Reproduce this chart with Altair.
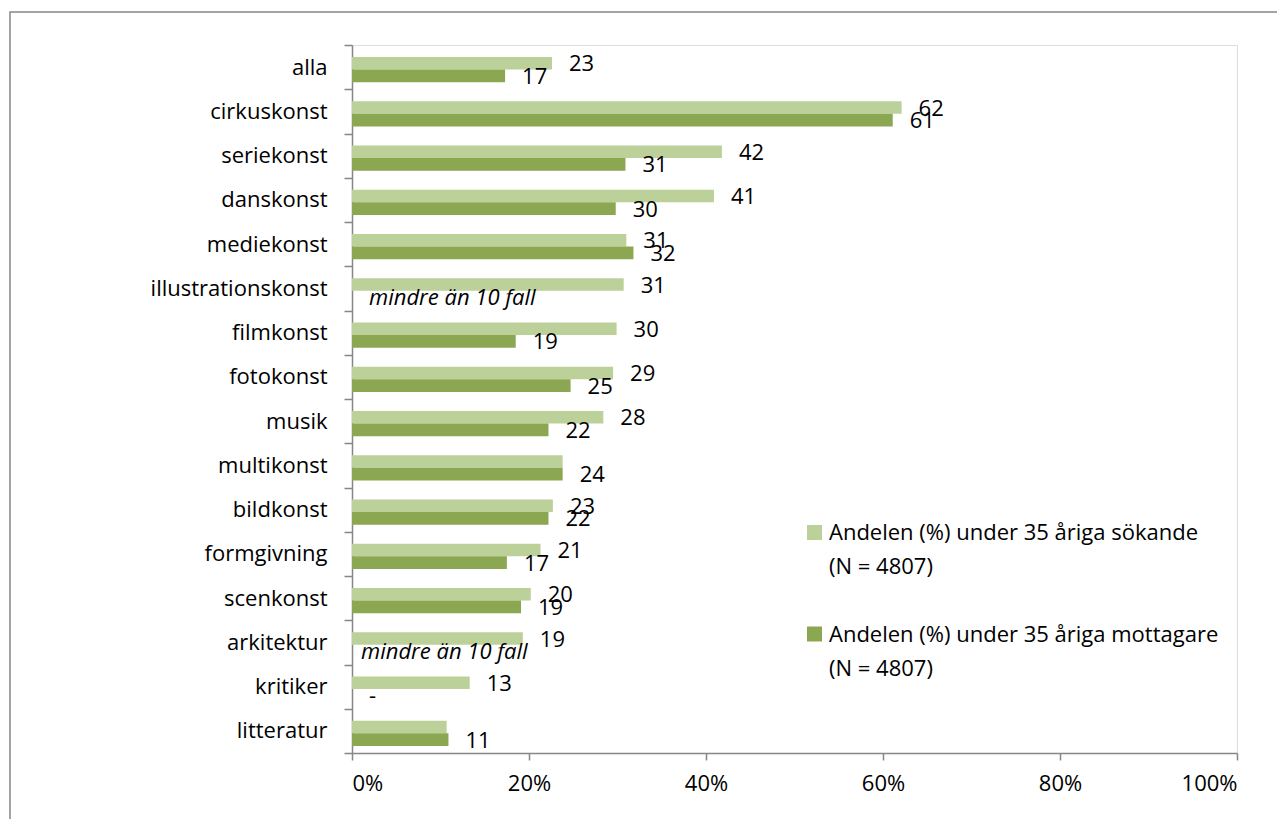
import altair as alt
import pandas as pd

FONT = "Open Sans"
FS = 22
LIGHT = "#BCD09A"
DARK = "#8BA752"
GRAY = "#868686"

categories = ["alla", "cirkuskonst", "seriekonst", "danskonst", "mediekonst",
              "illustrationskonst", "filmkonst", "fotokonst", "musik", "multikonst",
              "bildkonst", "formgivning", "scenkonst", "arkitektur", "kritiker", "litteratur"]
series = ["Andelen (%) under 35 åriga sökande (N = 4807)",
          "Andelen (%) under 35 åriga mottagare (N = 4807)"]
legend_text = ["Andelen (%) under 35 åriga sökande\n(N = 4807)",
               "Andelen (%) under 35 åriga mottagare\n(N = 4807)"]

sokande = [22.6, 62.1, 41.8, 40.9, 31.0, 30.7, 29.9, 29.5, 28.4, 23.8,
           22.7, 21.3, 20.2, 19.3, 13.3, 10.7]
sokande_labels = ["23", "62", "42", "41", "31", "31", "30", "29", "28", "",
                  "23", "21", "20", "19", "13", ""]
mottagare = [17.3, 61.1, 30.9, 29.8, 31.8, None, 18.5, 24.7, 22.2, 23.8,
             22.2, 17.5, 19.1, None, None, 10.9]
mottagare_labels = ["17", "61", "31", "30", "32", "", "19", "25", "22", "24",
                    "22", "17", "19", "", "", "11"]
note_categories = ["illustrationskonst", "arkitektur", "kritiker"]
note_text = ["mindre än 10 fall", "mindre än 10 fall", "-"]
note_italic = [True, True, False]
NOTE_DX = [17, 9, 17]

rows = []
for c, v, l in zip(categories, sokande, sokande_labels):
    rows.append({"category": c, "series": series[0], "value": v, "label": l})
for c, v, l in zip(categories, mottagare, mottagare_labels):
    if v is not None:
        rows.append({"category": c, "series": series[1], "value": v, "label": l})
df = pd.DataFrame(rows)

notes = pd.DataFrame({"category": note_categories, "series": series[1], "note": note_text})
leg = pd.DataFrame({"series": series, "text": legend_text})

W, H = 885, 708

y_enc = alt.Y("category:N", sort=categories,
              scale=alt.Scale(domain=categories, paddingInner=0, paddingOuter=0),
              axis=alt.Axis(title=None, tickBand="extent", tickSize=8, labelPadding=17,
                            labelLimit=400,
                            labelFont=FONT, labelFontSize=FS, labelColor="black",
                            domainColor=GRAY, tickColor=GRAY, domainWidth=1.5, tickWidth=1.5))
yoff_enc = alt.YOffset("series:N", sort=series,
                       scale=alt.Scale(domain=series, paddingInner=0, paddingOuter=0.756, align=0.63))
x_scale = alt.Scale(domain=[0, 100], nice=False)

bars = alt.Chart(df).mark_bar().encode(
    x=alt.X("value:Q", scale=x_scale,
            axis=alt.Axis(values=[0, 20, 40, 60, 80, 100], labelExpr="datum.value + '%'",
                          title=None, grid=False, tickSize=7, labelPadding=13,
                          labelFont=FONT, labelFontSize=FS, labelColor="black",
                          domainColor=GRAY, tickColor=GRAY, domainWidth=1.5, tickWidth=1.5)),
    y=y_enc,
    yOffset=yoff_enc,
    color=alt.Color("series:N", scale=alt.Scale(domain=series, range=[LIGHT, DARK]), legend=None),
)

labels = alt.Chart(df).mark_text(align="left", baseline="middle", dx=17, dy=1,
                                 font=FONT, fontSize=FS, color="black").encode(
    x=alt.X("value:Q", scale=x_scale),
    y=alt.Y("category:N", sort=categories),
    yOffset=alt.YOffset("series:N", sort=series),
    text="label:N",
)

note_layers = []
for i, cat in enumerate(note_categories):
    note_layers.append(
        alt.Chart(notes).transform_filter(alt.datum.category == cat).mark_text(
            align="left", baseline="middle", dx=NOTE_DX[i], dy=1,
            font=FONT, fontSize=FS, fontStyle="italic" if note_italic[i] else "normal",
            color="black").encode(
            x=alt.datum(0),
            y=alt.Y("category:N", sort=categories),
            yOffset=alt.YOffset("series:N", sort=series),
            text="note:N",
        )
    )

leg_layers = []
for i, (ly, ty) in enumerate([(487.5, 495), (589, 597)]):
    sq = alt.Chart(leg).transform_filter(alt.datum.series == series[i]).mark_square(
        size=225, opacity=1).encode(
        x=alt.value(462.5), y=alt.value(ly),
        color=alt.Color("series:N", scale=alt.Scale(domain=series, range=[LIGHT, DARK]), legend=None),
    )
    tx = alt.Chart(leg).transform_filter(alt.datum.series == series[i]).mark_text(
        align="left", baseline="alphabetic", lineBreak="\n", lineHeight=34,
        font=FONT, fontSize=FS, color="black").encode(
        x=alt.value(477), y=alt.value(ty), text="text:N",
    )
    leg_layers += [sq, tx]

border = alt.Chart(pd.DataFrame({"b": [0]})).mark_rect(
    fillOpacity=0, stroke=GRAY, strokeWidth=1.5).encode(
    x=alt.value(-342), x2=alt.value(1200), y=alt.value(-33), y2=alt.value(1000),
)

chart = alt.layer(border, bars, labels, *note_layers, *leg_layers).properties(
    width=W, height=H,
    autosize=alt.AutoSizeParams(type="none"),
    padding={"left": 344, "top": 37, "right": 40, "bottom": 66},
).configure_view(stroke=None).configure(background="white")

chart.save("out.html", embed_options={"renderer": "svg", "actions": False})
